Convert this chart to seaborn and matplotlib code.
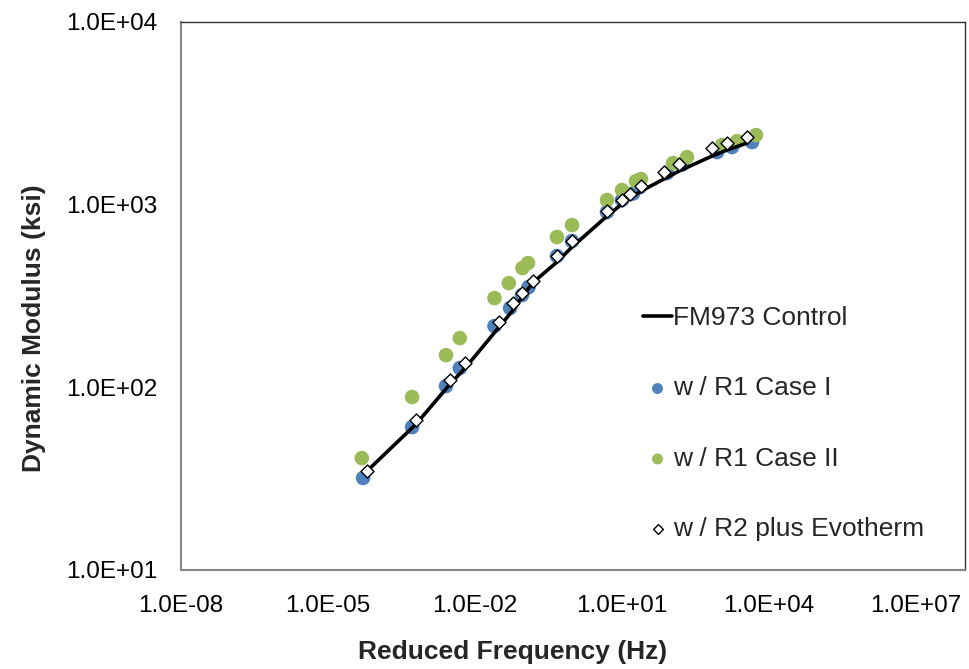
import numpy as np
import pandas as pd
import matplotlib
matplotlib.use("Agg")
import matplotlib.pyplot as plt
import matplotlib.ticker as mticker
import seaborn as sns

# FM973 control master curve
control_freq = [6.25e-5, 6.3e-4, 3.1e-3, 6.3e-3, 0.031, 0.060, 0.093, 0.153, 0.47, 0.955,
                4.94, 10, 24.4, 72, 146, 687, 1390, 3556]
control_mod = [34.8, 63.0, 104.3, 127.5, 213.8, 265, 315, 375, 485, 586,
               866, 1008, 1187, 1381, 1527, 1845, 1991, 2174]

# w / R1 Case I
case1_freq = [5.2e-5, 5.2e-4, 2.56e-3, 4.9e-3, 0.025, 0.052, 0.091, 0.124, 0.47, 0.955,
              4.94, 10, 16.8, 23.3, 82.8, 167, 869, 1758, 4500]
case1_mod = [31.9, 60.6, 101.6, 127.5, 216.5, 271.7, 320, 354, 523, 632,
             911, 1060, 1150, 1249, 1489, 1658, 1940, 2067, 2201]

# w / R1 Case II
case2_freq = [4.9e-5, 5.2e-4, 2.56e-3, 4.9e-3, 0.025, 0.049, 0.093, 0.121, 0.47, 0.955,
              4.94, 10, 19.3, 24.4, 110, 212, 1100, 2223, 5430]
case2_mod = [41.0, 88.5, 150, 186, 308, 372, 450, 479, 665, 773,
             1060, 1202, 1346, 1381, 1689, 1821, 2120, 2229, 2404]

# w / R2 plus Evotherm
r2_freq = [6.25e-5, 6.3e-4, 3.1e-3, 6.3e-3, 0.031, 0.060, 0.093, 0.153, 0.47, 0.955,
           4.94, 10, 14.6, 24.4, 72, 146, 687, 1390, 3556]
r2_mod = [34.8, 66.2, 109.6, 135.8, 227.8, 289.3, 328, 382, 523, 632,
          922, 1060, 1143, 1264, 1508, 1668, 2041, 2174, 2344]

sns.set_style("white")
plt.rcParams['font.family'] = ['Liberation Sans', 'DejaVu Sans']

fig = plt.figure(figsize=(9.69, 6.69), dpi=100)
ax = fig.add_axes([181/969, 1-570/669, (965-181)/969, (570-22)/669])

sns.scatterplot(x=case1_freq, y=case1_mod, ax=ax, color='#4F81BD', s=110,
                edgecolor='none', label='w / R1 Case I', zorder=2)
sns.scatterplot(x=case2_freq, y=case2_mod, ax=ax, color='#9BBB59', s=110,
                edgecolor='none', label='w / R1 Case II', zorder=2)
sns.lineplot(x=control_freq, y=control_mod, ax=ax, color='black', linewidth=2.6,
             label='FM973 Control', zorder=3, sort=False)
sns.scatterplot(x=r2_freq, y=r2_mod, ax=ax, marker='D', s=44, facecolor='white',
                edgecolor='black', linewidth=1.0, label='w / R2 plus Evotherm', zorder=4)

ax.set_xscale('log')
ax.set_yscale('log')
ax.set_xlim(1e-8, 1e8)
ax.set_ylim(1e1, 1e4)

ax.xaxis.set_major_locator(mticker.FixedLocator([10.0**e for e in range(-8, 8, 3)]))
ax.yaxis.set_major_locator(mticker.FixedLocator([10.0**e for e in range(1, 5)]))
xminor = [k * 10.0**m for m in range(-7, 8, 2) for k in range(1, 10)]
ax.xaxis.set_minor_locator(mticker.FixedLocator(xminor))
yminor = [k * 10.0**m for m in range(1, 4) for k in range(2, 10)]
ax.yaxis.set_minor_locator(mticker.FixedLocator(yminor))
fmt = mticker.FuncFormatter(lambda v, p: '{:.1E}'.format(v))
ax.xaxis.set_major_formatter(fmt)
ax.yaxis.set_major_formatter(fmt)
ax.xaxis.set_minor_formatter(mticker.NullFormatter())
ax.yaxis.set_minor_formatter(mticker.NullFormatter())

ax.tick_params(which='both', direction='in', colors='#868686', labelcolor='black')
ax.tick_params(which='major', length=5, width=1)
ax.tick_params(which='minor', length=3, width=1)
ax.tick_params(axis='x', labelsize=17.5, pad=18)
ax.tick_params(axis='y', labelsize=17.5, pad=17)

for side in ['left', 'bottom']:
    ax.spines[side].set_color('#868686')
    ax.spines[side].set_linewidth(1.5)
for side in ['top', 'right']:
    ax.spines[side].set_color('#333333')
    ax.spines[side].set_linewidth(1.0)

ax.set_xlabel('Reduced Frequency (Hz)', fontsize=19, fontweight='bold')
ax.set_ylabel('Dynamic Modulus (ksi)', fontsize=19, fontweight='bold')
ax.xaxis.set_label_coords(0.4235, -0.128)
ax.yaxis.set_label_coords(-0.172, 0.4416)

handles, labels = ax.get_legend_handles_labels()
order = [labels.index(l) for l in ['FM973 Control', 'w / R1 Case I', 'w / R1 Case II', 'w / R2 plus Evotherm']]
ax.legend([handles[i] for i in order], [labels[i] for i in order],
          loc='upper left', bbox_to_anchor=(643/969, 1-306/669), bbox_transform=fig.transFigure,
          frameon=False, fontsize=19, markerscale=0.75, handlelength=1.1, handletextpad=0.05,
          labelspacing=1.76, borderpad=0, borderaxespad=0)

fig.savefig('out.png', dpi=100)
